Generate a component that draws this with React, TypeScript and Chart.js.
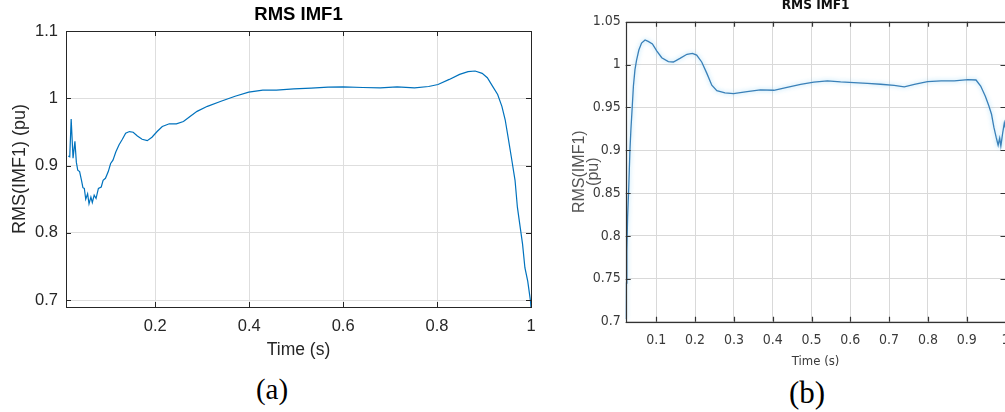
import React, { useEffect, useRef } from "react";
import { Chart, registerables } from "chart.js";

Chart.register(...registerables);

// ---------- data: panel (a) ----------
const timeA = [
  0.015, 0.018, 0.021, 0.025, 0.029, 0.032, 0.035, 0.039, 0.043, 0.046, 0.049, 0.052, 0.056, 0.059,
  0.063, 0.066, 0.07, 0.074, 0.079, 0.085, 0.089, 0.094, 0.1, 0.105, 0.11, 0.116, 0.123, 0.13, 0.137,
  0.145, 0.153, 0.162, 0.172, 0.183, 0.193, 0.204, 0.215, 0.23, 0.245, 0.26, 0.274, 0.289, 0.311,
  0.34, 0.37, 0.399, 0.429, 0.458, 0.495, 0.532, 0.568, 0.6, 0.642, 0.679, 0.715, 0.752, 0.782,
  0.802, 0.826, 0.848, 0.866, 0.881, 0.896, 0.907, 0.918, 0.929, 0.938, 0.945, 0.951, 0.958, 0.966,
  0.971, 0.977, 0.982, 0.987, 0.993, 0.999, 1.0,
];
const rmsA = [
  0.914, 0.913, 0.969, 0.911, 0.936, 0.905, 0.893, 0.891, 0.878, 0.867, 0.866, 0.85, 0.858, 0.843,
  0.853, 0.845, 0.856, 0.851, 0.866, 0.868, 0.878, 0.881, 0.891, 0.903, 0.908, 0.92, 0.931, 0.939,
  0.948, 0.9505, 0.9495, 0.944, 0.939, 0.937, 0.942, 0.9505, 0.958, 0.962, 0.962, 0.9655, 0.973,
  0.9805, 0.988, 0.9955, 1.003, 1.009, 1.012, 1.012, 1.014, 1.015, 1.0165, 1.017, 1.016, 1.0155,
  1.017, 1.0155, 1.0175, 1.0205, 1.028, 1.0355, 1.0395, 1.0405, 1.037, 1.0305, 1.018, 1.0055, 0.988,
  0.968, 0.943, 0.913, 0.878, 0.838, 0.808, 0.783, 0.748, 0.728, 0.698, 0.688,
];
const xTicksA = [0.2, 0.4, 0.6, 0.8, 1];
const yTicksA = [0.7, 0.8, 0.9, 1, 1.1];

// ---------- data: panel (b) ----------
const timeB = [
  0.0212, 0.022, 0.024, 0.026, 0.029, 0.032, 0.0345, 0.038, 0.041, 0.045, 0.049, 0.055, 0.062, 0.071,
  0.079, 0.09, 0.101, 0.114, 0.131, 0.144, 0.161, 0.179, 0.193, 0.204, 0.217, 0.23, 0.243, 0.256,
  0.277, 0.299, 0.334, 0.368, 0.403, 0.437, 0.472, 0.506, 0.541, 0.575, 0.609, 0.644, 0.678, 0.713,
  0.739, 0.765, 0.799, 0.834, 0.868, 0.903, 0.924, 0.936, 0.948, 0.957, 0.964, 0.97, 0.976, 0.981,
  0.985, 0.988, 0.993, 0.997, 1.0,
];
const rmsB = [
  0.703, 0.745, 0.782, 0.822, 0.857, 0.9, 0.924, 0.951, 0.975, 0.994, 1.005, 1.017, 1.025, 1.0287,
  1.027, 1.024, 1.016, 1.008, 1.0035, 1.003, 1.0072, 1.012, 1.013, 1.011, 1.003, 0.99, 0.976, 0.9695,
  0.967, 0.966, 0.9685, 0.9705, 0.97, 0.9735, 0.977, 0.9795, 0.981, 0.9798, 0.979, 0.978, 0.977,
  0.9758, 0.974, 0.977, 0.98, 0.981, 0.981, 0.9825, 0.982, 0.975, 0.963, 0.952, 0.942, 0.927, 0.915,
  0.906, 0.914, 0.905, 0.921, 0.932, 0.926,
];
const xTicksB = [0.1, 0.2, 0.3, 0.4, 0.5, 0.6, 0.7, 0.8, 0.9, 1];
const yTicksB = [0.7, 0.75, 0.8, 0.85, 0.9, 0.95, 1, 1.05];

const fmt = (v: number | string) => String(+Number(v).toFixed(2));

function hasFont(name: string): boolean {
  const c = document.createElement("canvas").getContext("2d");
  if (!c) return false;
  const s = "RMS IMF1 0.95 Time (s)";
  c.font = "40px monospace";
  const w1 = c.measureText(s).width;
  c.font = `40px "${name}", monospace`;
  const w2 = c.measureText(s).width;
  c.font = "40px serif";
  const w3 = c.measureText(s).width;
  c.font = `40px "${name}", serif`;
  const w4 = c.measureText(s).width;
  return w1 !== w2 || w3 !== w4;
}

// axes box with inward tick marks (MATLAB style)
const boxPlugin = {
  id: "matlabBox",
  afterDraw(chart: any, _args: any, opts: any) {
    const { ctx, chartArea } = chart;
    const { left, right, top, bottom } = chartArea;
    const xs = chart.scales.x;
    const ys = chart.scales.y;
    const len = opts.tickLength ?? 5;
    ctx.save();
    ctx.strokeStyle = opts.color || "#262626";
    ctx.lineWidth = opts.lineWidth || 1;
    ctx.beginPath();
    for (const t of xs.ticks) {
      const px = Math.round(xs.getPixelForValue(t.value)) + 0.5;
      ctx.moveTo(px, bottom);
      ctx.lineTo(px, bottom - len);
      ctx.moveTo(px, top);
      ctx.lineTo(px, top + len);
    }
    for (const t of ys.ticks) {
      const py = Math.round(ys.getPixelForValue(t.value)) + 0.5;
      ctx.moveTo(left, py);
      ctx.lineTo(left + len, py);
      ctx.moveTo(right, py);
      ctx.lineTo(right - len, py);
    }
    ctx.stroke();
    ctx.strokeRect(Math.round(left) + 0.5, Math.round(top) + 0.5, Math.round(right - left), Math.round(bottom - top));
    ctx.restore();
  },
};

// soft halo under the line of panel (b)
const glowPlugin = {
  id: "lineGlow",
  beforeDatasetDraw(chart: any, _args: any, opts: any) {
    if (!opts || !opts.enabled) return;
    const ctx = chart.ctx;
    ctx.save();
    ctx.shadowColor = opts.color;
    ctx.shadowBlur = opts.blur;
  },
  afterDatasetDraw(chart: any, _args: any, opts: any) {
    if (!opts || !opts.enabled) return;
    chart.ctx.restore();
  },
};

const SANS = '"Liberation Sans", Arial, Helvetica, sans-serif';

function configA(): any {
  const W = 545, H = 372;
  const left = 66, right = 532, top = 31, bottom = 307;
  return {
    type: "line",
    data: {
      datasets: [
        {
          data: timeA.map((t, i) => ({ x: t, y: rmsA[i] })),
          borderColor: "#0072BD",
          borderWidth: 1.2,
          pointRadius: 0,
          tension: 0,
          fill: false,
        },
      ],
    },
    plugins: [boxPlugin],
    options: {
      responsive: false,
      maintainAspectRatio: false,
      animation: false,
      devicePixelRatio: 1,
      layout: { padding: { left: 0, right: W - right, top: 0, bottom: 0 } },
      plugins: {
        legend: { display: false },
        tooltip: { enabled: false },
        title: {
          display: true,
          text: "RMS IMF1",
          fullSize: false,
          color: "#000",
          font: { family: SANS, size: 18.5, weight: "bold", lineHeight: 1.2 },
          padding: { top: 3.9, bottom: top - 3.9 - 22.2 },
        },
        matlabBox: { color: "#262626", tickLength: 5, lineWidth: 1 },
      },
      scales: {
        x: {
          type: "linear",
          min: 0.01,
          max: 1,
          afterBuildTicks: (s: any) => {
            s.ticks = xTicksA.map((v) => ({ value: v }));
          },
          afterFit: (s: any) => {
            s.height = H - bottom;
          },
          grid: { color: "#dedede", drawTicks: false, lineWidth: 1 },
          border: { display: false },
          ticks: {
            autoSkip: false,
            maxRotation: 0,
            padding: 9.4,
            color: "#262626",
            font: { family: SANS, size: 16.5, lineHeight: 1.2 },
            callback: fmt,
          },
          title: {
            display: true,
            text: "Time (s)",
            color: "#262626",
            font: { family: SANS, size: 17.5, lineHeight: 1.2 },
            padding: { top: 0, bottom: 11.5 },
          },
        },
        y: {
          type: "linear",
          min: 0.6896,
          max: 1.1,
          afterBuildTicks: (s: any) => {
            s.ticks = yTicksA.map((v) => ({ value: v }));
          },
          afterFit: (s: any) => {
            s.width = left;
          },
          grid: { color: "#dedede", drawTicks: false, lineWidth: 1 },
          border: { display: false },
          ticks: {
            autoSkip: false,
            padding: 8,
            color: "#262626",
            font: { family: SANS, size: 16.5, lineHeight: 1.2 },
            callback: fmt,
          },
          title: {
            display: true,
            text: "RMS(IMF1) (pu)",
            color: "#262626",
            font: { family: SANS, size: 18, lineHeight: 1.2 },
            padding: { top: 9.2, bottom: 0 },
          },
        },
      },
    },
  };
}

function configB(): any {
  const W = 460, H = 372;
  const left = 65.7, right = 445.5, top = 21.7, bottom = 321.7;
  const narrow = ["Liberation Sans Narrow", "Arial Narrow", "DejaVu Sans Condensed"].find((f) => hasFont(f));
  const tickFont = narrow
    ? { family: `"${narrow}", ${SANS}`, size: 14 }
    : { family: SANS, size: 11.5 };
  const titleFont = narrow
    ? { family: `"${narrow}", ${SANS}`, size: 13.5, weight: "bold" }
    : { family: SANS, size: 11.5, weight: "bold" };
  const xTitleFont = narrow
    ? { family: `"${narrow}", ${SANS}`, size: 13 }
    : { family: SANS, size: 11 };
  return {
    type: "line",
    data: {
      datasets: [
        {
          data: timeB.map((t, i) => ({ x: t, y: rmsB[i] })),
          borderColor: "#3a80b8",
          borderWidth: 1.3,
          pointRadius: 0,
          tension: 0,
          fill: false,
        },
      ],
    },
    plugins: [boxPlugin, glowPlugin],
    options: {
      responsive: false,
      maintainAspectRatio: false,
      animation: false,
      devicePixelRatio: 1,
      layout: { padding: { left: 0, right: W - right, top: 0, bottom: 0 } },
      plugins: {
        legend: { display: false },
        tooltip: { enabled: false },
        title: {
          display: true,
          text: "RMS IMF1",
          fullSize: false,
          color: "#111",
          font: { ...titleFont, lineHeight: 10 / titleFont.size },
          padding: { top: 0, bottom: top - 10 },
        },
        matlabBox: { color: "#333", tickLength: 5, lineWidth: 1.2 },
        lineGlow: { enabled: true, color: "rgba(140,210,245,0.9)", blur: 4 },
      },
      scales: {
        x: {
          type: "linear",
          min: 0.0211,
          max: 1,
          afterBuildTicks: (s: any) => {
            s.ticks = xTicksB.map((v) => ({ value: v }));
          },
          afterFit: (s: any) => {
            s.height = H - bottom;
          },
          grid: { color: "#d9d9d9", drawTicks: false, lineWidth: 1 },
          border: { display: false },
          ticks: {
            autoSkip: false,
            maxRotation: 0,
            padding: 18.3 - (tickFont.size * 1.2) / 2,
            color: "#3a3a3a",
            font: { ...tickFont, lineHeight: 1.2 },
            callback: fmt,
          },
          title: {
            display: true,
            text: "Time (s)",
            color: "#3a3a3a",
            font: { ...xTitleFont, lineHeight: 1.2 },
            padding: { top: 0, bottom: 10 - (xTitleFont.size * 1.2) / 2 },
          },
        },
        y: {
          type: "linear",
          min: 0.7,
          max: 1.05,
          afterBuildTicks: (s: any) => {
            s.ticks = yTicksB.map((v) => ({ value: v }));
          },
          afterFit: (s: any) => {
            s.width = left;
          },
          grid: { color: "#d9d9d9", drawTicks: false, lineWidth: 1 },
          border: { display: false },
          ticks: {
            autoSkip: false,
            padding: 5,
            color: "#3a3a3a",
            font: { ...tickFont, lineHeight: 1.2 },
            callback: fmt,
          },
          title: {
            display: true,
            text: ["RMS(IMF1)", "(pu)"],
            color: "#555",
            font: { family: SANS, size: 16, lineHeight: 0.85 },
            padding: { top: 13.2, bottom: 0 },
          },
        },
      },
    },
  };
}

export default function App() {
  const refA = useRef<HTMLCanvasElement>(null);
  const refB = useRef<HTMLCanvasElement>(null);

  useEffect(() => {
    if (!refA.current || !refB.current) return;
    const a = new Chart(refA.current, configA());
    const b = new Chart(refB.current, configB());
    return () => {
      a.destroy();
      b.destroy();
    };
  }, []);

  const serif = '"Liberation Serif", "Times New Roman", Times, serif';
  return (
    <div
      style={{
        position: "fixed",
        left: 0,
        top: 0,
        width: 1005,
        height: 412,
        overflow: "hidden",
        background: "#fff",
      }}
    >
      <canvas ref={refA} width={545} height={372} style={{ position: "absolute", left: 0, top: 0, width: 545, height: 372 }} />
      <canvas ref={refB} width={460} height={372} style={{ position: "absolute", left: 560, top: 0, width: 460, height: 372 }} />
      <div
        style={{
          position: "absolute",
          left: 272 - 40,
          width: 80,
          top: 374.5,
          textAlign: "center",
          fontFamily: serif,
          fontSize: 29,
          lineHeight: "29px",
          color: "#000",
        }}
      >
        (a)
      </div>
      <div
        style={{
          position: "absolute",
          left: 807 - 40,
          width: 80,
          top: 377.3,
          textAlign: "center",
          fontFamily: serif,
          fontSize: 31,
          lineHeight: "31px",
          color: "#000",
        }}
      >
        (b)
      </div>
    </div>
  );
}
